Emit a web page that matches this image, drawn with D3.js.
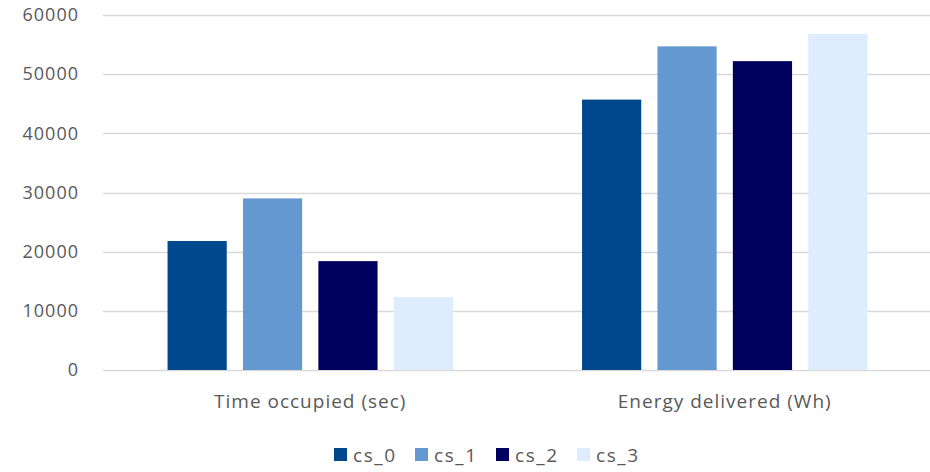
<!DOCTYPE html>
<html>
<head>
<meta charset="utf-8">
<script src="https://cdn.jsdelivr.net/npm/d3@7"></script>
<style>
  body { margin: 0; background: #fff; }
  svg text { font-family: "Open Sans", "Liberation Sans", sans-serif; fill: #595959; }
</style>
</head>
<body>
<svg id="chart" width="930" height="472"></svg>
<script>
// data
const categories = ["Time occupied (sec)", "Energy delivered (Wh)"];
const series = ["cs_0", "cs_1", "cs_2", "cs_3"];
const cs_0 = [21800, 45700];
const cs_1 = [29000, 54700];
const cs_2 = [18400, 52200];
const cs_3 = [12300, 56800];
const yTicks = [0, 10000, 20000, 30000, 40000, 50000, 60000];
const colors = ["#00488D", "#6398D0", "#00005E", "#DDEDFD"];

const values = { cs_0, cs_1, cs_2, cs_3 };

const svg = d3.select("#chart");
const margin = { left: 103, right: -2, top: 15, bottom: 102 };
const width = 930 - margin.left - margin.right;
const height = 472 - margin.top - margin.bottom;

const g = svg.append("g")
    .attr("transform", `translate(${margin.left},${margin.top})`);

const x0 = d3.scaleBand()
    .domain(categories)
    .range([0, width])
    .padding(0);

const x1 = d3.scaleBand()
    .domain(series)
    .range([0, x0.bandwidth()])
    .paddingInner(0.215)
    .paddingOuter(0.856);

const y = d3.scaleLinear()
    .domain([0, 60000])
    .range([height, 0]);

// gridlines
g.append("g")
    .attr("class", "grid")
    .selectAll("line")
    .data(yTicks)
    .enter().append("line")
    .attr("x1", 0)
    .attr("x2", width)
    .attr("y1", d => Math.round(y(d)) + 0.5)
    .attr("y2", d => Math.round(y(d)) + 0.5)
    .attr("stroke", "#D9D9D9")
    .attr("stroke-width", 1.3);

// y tick labels
g.append("g")
    .selectAll("text")
    .data(yTicks)
    .enter().append("text")
    .attr("x", -24)
    .attr("y", d => y(d))
    .attr("dy", "0.35em")
    .attr("text-anchor", "end")
    .style("font-size", "18px")
    .style("letter-spacing", "1px")
    .text(d => d);

// bars
const groups = g.append("g")
    .selectAll(".group")
    .data(categories)
    .enter().append("g")
    .attr("class", "group")
    .attr("transform", d => `translate(${x0(d)},0)`);

groups.selectAll("rect")
    .data((d, i) => series.map((s, k) => ({ s, k, v: values[s][i] })))
    .enter().append("rect")
    .attr("x", d => x1(d.s))
    .attr("y", d => y(d.v))
    .attr("width", x1.bandwidth())
    .attr("height", d => height - y(d.v))
    .attr("fill", d => colors[d.k]);

// category labels
g.append("g")
    .selectAll("text")
    .data(categories)
    .enter().append("text")
    .attr("x", d => x0(d) + x0.bandwidth() / 2)
    .attr("y", height + 38)
    .attr("text-anchor", "middle")
    .style("font-size", "19px")
    .style("letter-spacing", "1px")
    .text(d => d);

// legend
const legend = svg.append("g")
    .attr("transform", "translate(334,448)");

const item = legend.selectAll(".item")
    .data(series)
    .enter().append("g")
    .attr("class", "item")
    .attr("transform", (d, i) => `translate(${i * 81},0)`);

item.append("rect")
    .attr("width", 13)
    .attr("height", 13)
    .attr("fill", (d, i) => colors[i]);

item.append("text")
    .attr("x", 19)
    .attr("y", 7)
    .attr("dy", "0.35em")
    .style("font-size", "19px")
    .style("letter-spacing", "1.6px")
    .text(d => d);
</script>
</body>
</html>
